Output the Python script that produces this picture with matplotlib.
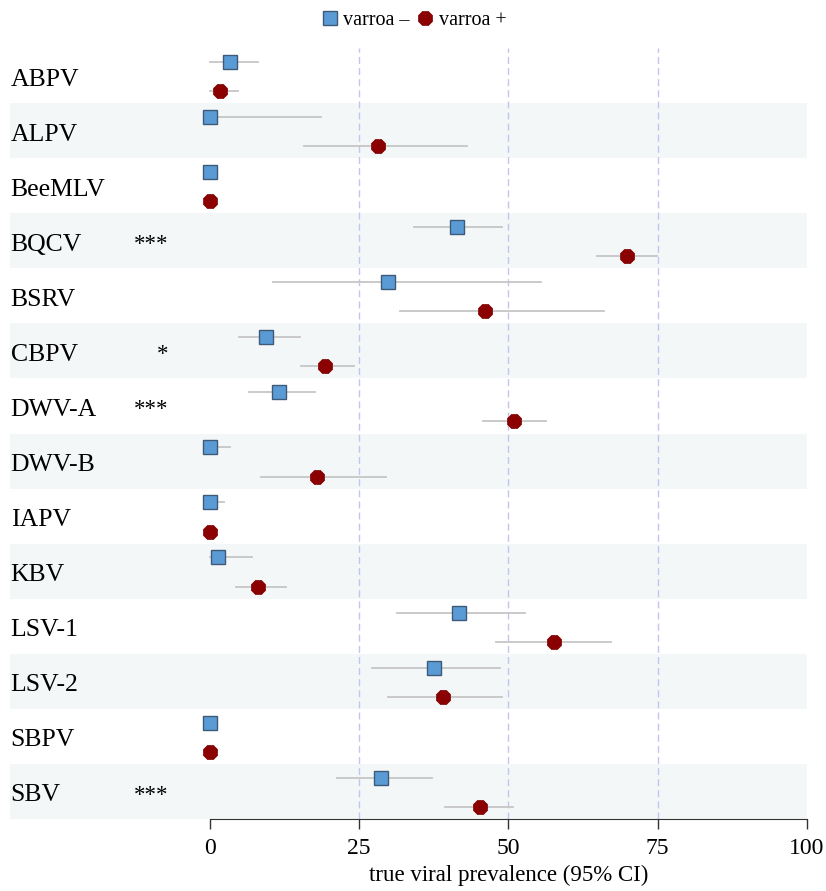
import matplotlib.pyplot as plt
import matplotlib.transforms as mtransforms
from matplotlib.lines import Line2D

plt.rcParams['font.family'] = ['Liberation Serif', 'DejaVu Serif']

viruses = ['ABPV', 'ALPV', 'BeeMLV', 'BQCV', 'BSRV', 'CBPV', 'DWV-A',
           'DWV-B', 'IAPV', 'KBV', 'LSV-1', 'LSV-2', 'SBPV', 'SBV']
stars = ['', '', '', '***', '', '*', '***', '', '', '', '', '', '', '***']

# varroa - (squares)
neg_est = [3.3, 0.0, 0.0, 41.3, 29.9, 9.4, 11.5, 0.0, 0.0, 1.3, 41.7, 37.5, 0.0, 28.7]
neg_lo = [0.0, 0.0, 0.0, 34.1, 10.5, 4.9, 6.6, 0.0, 0.0, 0.0, 31.4, 27.2, 0.0, 21.2]
neg_hi = [8.0, 18.6, 0.0, 48.9, 55.4, 15.1, 17.6, 3.4, 2.3, 7.0, 52.7, 48.5, 0.0, 37.2]

# varroa + (octagons)
pos_est = [1.6, 28.2, 0.0, 69.8, 46.0, 19.3, 51.0, 17.9, 0.0, 8.0, 57.6, 39.1, 0.0, 45.2]
pos_lo = [0.0, 15.8, 0.0, 64.8, 31.8, 15.3, 45.7, 8.6, 0.0, 4.3, 47.9, 29.9, 0.0, 39.4]
pos_hi = [4.7, 43.0, 0.0, 74.8, 66.0, 24.1, 56.2, 29.4, 0.0, 12.7, 67.1, 48.9, 0.0, 50.8]

fig = plt.figure(figsize=(8.26, 8.91), dpi=100)
ax = fig.add_axes([0.0121, 0.0808, 0.9649, 0.8652])

n = len(viruses)
xmin, xmax = -33.5, 100
ax.set_xlim(xmin, xmax)
ax.set_ylim(n, 0)

for i in range(n):
    if i % 2 == 1:
        ax.axhspan(i, i + 1, color='#f3f7f8', zorder=0, lw=0)

for v in (25, 50, 75):
    ax.axvline(v, color='#c4c4f0', ls=(0, (5, 3)), lw=1, zorder=1)

for i in range(n):
    ys = i + 0.25
    yc = i + 0.78
    ax.plot([neg_lo[i], neg_hi[i]], [ys, ys], color='#c6c6c6', lw=1.3, zorder=2)
    ax.plot([pos_lo[i], pos_hi[i]], [yc, yc], color='#c6c6c6', lw=1.3, zorder=2)
    ax.plot(neg_est[i], ys, marker='s', ms=10, mfc='#5b9bd5', mec='#3d5a78',
            mew=1, zorder=3, ls='none')
    ax.plot(pos_est[i], yc, marker='8', ms=10.5, mfc='#8b0000', mec='#7a0000',
            mew=0.5, zorder=3, ls='none')
    ax.text(xmin + 0.1, i + 0.57, viruses[i], fontsize=18.5, va='center', ha='left')
    if stars[i]:
        ax.text(-7, i + 0.57, stars[i], fontsize=16.5, va='center', ha='right')

for s in ('top', 'right', 'left'):
    ax.spines[s].set_visible(False)
ax.spines['bottom'].set_bounds(0, 100)
ax.spines['bottom'].set_color('#333333')
ax.set_yticks([])
ax.set_xticks([0, 25, 50, 75, 100])
ax.tick_params(axis='x', labelsize=17, length=7, width=1, color='#333333', pad=7)

trans = mtransforms.blended_transform_factory(ax.transData, fig.transFigure)
ax.text(50, 0.006, 'true viral prevalence (95% CI)', transform=trans,
        ha='center', va='bottom', fontsize=16.5)

handles = [
    Line2D([], [], marker='s', ls='none', ms=10, mfc='#5b9bd5', mec='#3d5a78', mew=1),
    Line2D([], [], marker='8', ls='none', ms=10.5, mfc='#8b0000', mec='#7a0000', mew=0.5),
]
fig.legend(handles, ['varroa \u2013', 'varroa +'], loc='upper center',
           bbox_to_anchor=(0.5, 1.008), ncol=2, frameon=False, fontsize=14.5,
           handletextpad=0.15, columnspacing=0.3, handlelength=1.0)

fig.savefig('out.png', dpi=100)
